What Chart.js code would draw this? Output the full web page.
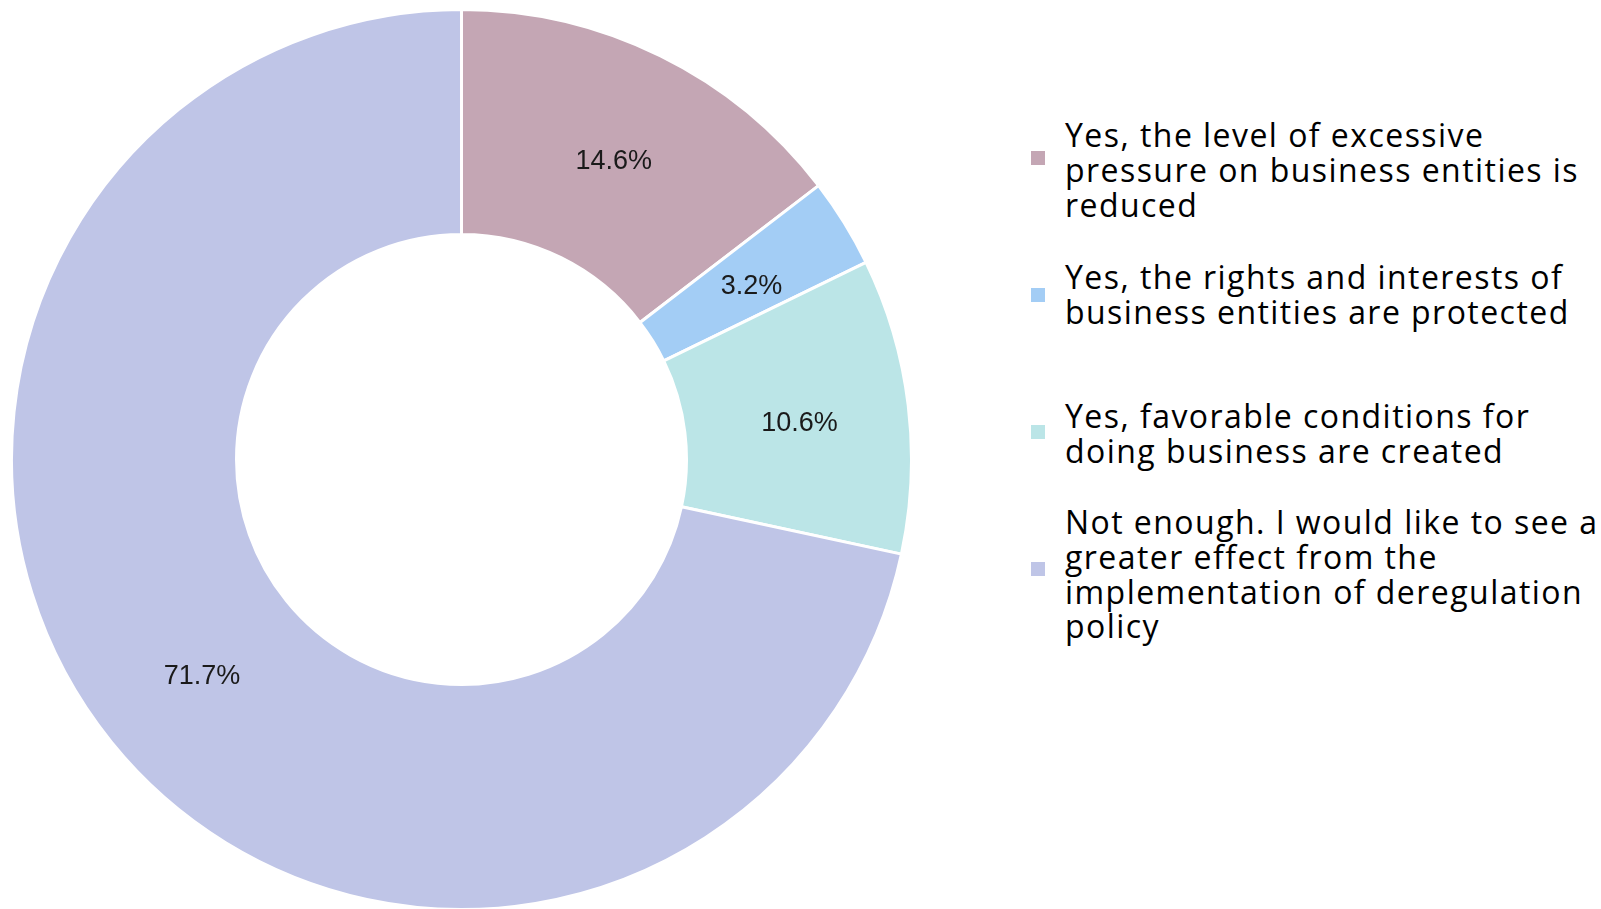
<!DOCTYPE html>
<html>
<head>
<meta charset="utf-8">
<script src="https://cdn.jsdelivr.net/npm/chart.js@4/dist/chart.umd.min.js"></script>
<style>
  body { margin: 0; background: #fff; width: 1601px; height: 909px; overflow: hidden; position: relative; }
  #chartBox { position: absolute; left: 10px; top: 8px; width: 903px; height: 903px; }
  #legend { position: absolute; left: 1031px; top: 89px; font-family: "Open Sans", sans-serif; font-size: 32px; line-height: 34.7px; letter-spacing: 1.45px; color: #000; }
  .item { display: flex; align-items: center; height: 137px; }
  .box { width: 14px; height: 14px; flex: none; margin-right: 20px; }
</style>
</head>
<body>
<div id="chartBox"><canvas id="donut" width="903" height="903"></canvas></div>
<div id="legend"></div>
<script>
const categories = [
  "Yes, the level of excessive pressure on business entities is reduced",
  "Yes, the rights and interests of business entities are protected",
  "Yes, favorable conditions for doing business are created",
  "Not enough. I would like to see a greater effect from the implementation of deregulation policy"
];
// legend lines as they wrap in the picture
const legendLines = [
  ["Yes, the level of excessive", "pressure on business entities is", "reduced"],
  ["Yes, the rights and interests of", "business entities are protected"],
  ["Yes, favorable conditions for", "doing business are created"],
  ["Not enough. I would like to see a", "greater effect from the", "implementation of deregulation", "policy"]
];
const values = [14.6, 3.2, 10.6, 71.7];
const colors = ["#c4a6b4", "#a3cdf5", "#bbe5e7", "#bfc5e7"];

// draws the percent text in the middle of each slice
const sliceLabels = {
  id: "sliceLabels",
  afterDatasetsDraw(chart) {
    const ctx = chart.ctx;
    const meta = chart.getDatasetMeta(0);
    ctx.save();
    ctx.font = '27px "Liberation Sans", Arial, sans-serif';
    ctx.fillStyle = "#1a1a1a";
    ctx.textAlign = "center";
    ctx.textBaseline = "middle";
    meta.data.forEach((arc, i) => {
      const p = arc.tooltipPosition();
      ctx.fillText(values[i].toFixed(1) + "%", p.x + 3, p.y + 5);
    });
    ctx.restore();
  }
};

new Chart(document.getElementById("donut"), {
  type: "doughnut",
  data: {
    labels: categories,
    datasets: [{
      data: values,
      backgroundColor: colors,
      borderColor: "#fff",
      borderWidth: 3
    }]
  },
  options: {
    responsive: false,
    animation: false,
    cutout: "50%",
    plugins: {
      legend: { display: false },
      tooltip: { enabled: false }
    }
  },
  plugins: [sliceLabels]
});

// the text blocks sit a little lower than the markers in the picture
const textShift = [13, 0, 2, 6];
const legend = document.getElementById("legend");
legendLines.forEach((lines, i) => {
  const item = document.createElement("div");
  item.className = "item";
  const box = document.createElement("div");
  box.className = "box";
  box.style.background = colors[i];
  const txt = document.createElement("div");
  txt.style.position = "relative";
  txt.style.top = textShift[i] + "px";
  txt.innerHTML = lines.join("<br>");
  item.appendChild(box);
  item.appendChild(txt);
  legend.appendChild(item);
});
</script>
</body>
</html>
